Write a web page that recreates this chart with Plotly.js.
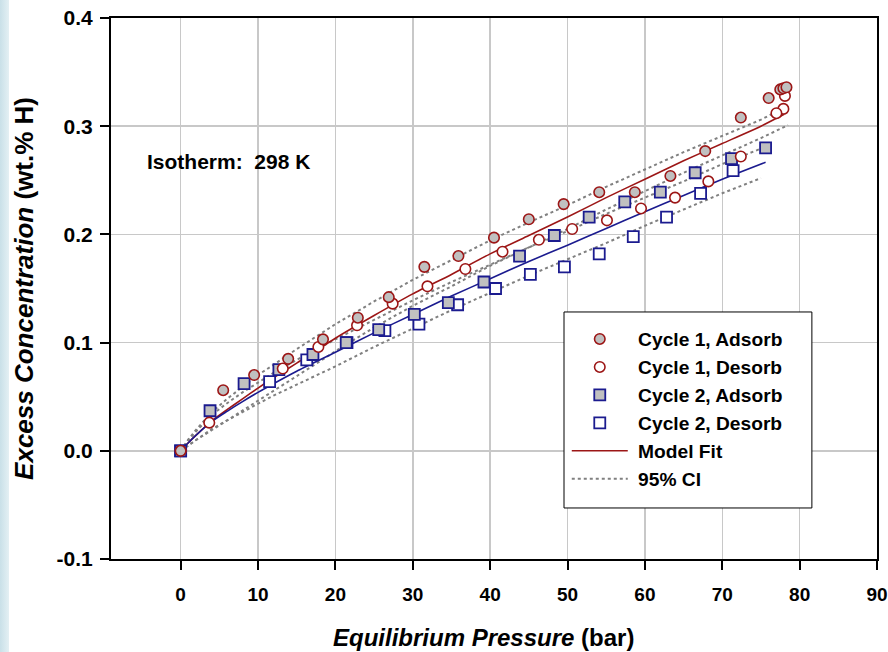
<!DOCTYPE html>
<html>
<head>
<meta charset="utf-8">
<script src="https://cdn.plot.ly/plotly-3.0.1.min.js"></script>
<style>
  html, body { margin: 0; padding: 0; background: #ffffff; }
  #strip { position: absolute; left: 0; top: 0; width: 9px; height: 652px;
           background: linear-gradient(to right, #c9e0e8, #e4f0f4); z-index: 0; }
  #chart { position: absolute; left: 0; top: 0; width: 888px; height: 652px; z-index: 1; }
</style>
</head>
<body>
<div id="strip"></div>
<div id="chart"></div>
<script>
// ---- Data ----
const c1AdsP = [0, 5.5, 9.5, 13.9, 18.4, 22.9, 26.9, 31.5, 35.9, 40.5, 45.0, 49.5, 54.1, 58.7, 63.3, 67.8, 72.4, 76.0, 77.5, 77.9, 78.3];
const c1AdsC = [0, 0.056, 0.070, 0.085, 0.103, 0.123, 0.142, 0.170, 0.180, 0.197, 0.214, 0.228, 0.239, 0.239, 0.254, 0.277, 0.308, 0.326, 0.334, 0.335, 0.336];

const c1DesP = [78.1, 77.9, 77.0, 72.4, 68.2, 63.9, 59.5, 55.1, 50.6, 46.3, 41.6, 36.8, 31.9, 27.4, 22.8, 17.8, 13.2, 3.7, 0];
const c1DesC = [0.328, 0.316, 0.312, 0.272, 0.249, 0.234, 0.224, 0.213, 0.205, 0.195, 0.184, 0.168, 0.152, 0.136, 0.116, 0.096, 0.076, 0.026, 0];

const c2AdsP = [0, 3.8, 8.2, 12.7, 17.1, 21.4, 25.6, 30.2, 34.6, 39.2, 43.8, 48.3, 52.8, 57.4, 62.0, 66.5, 71.2, 75.6];
const c2AdsC = [0, 0.037, 0.062, 0.075, 0.089, 0.100, 0.112, 0.126, 0.137, 0.156, 0.180, 0.199, 0.216, 0.230, 0.239, 0.257, 0.270, 0.280];

const c2DesP = [71.4, 67.2, 62.8, 58.5, 54.1, 49.6, 45.2, 40.7, 35.8, 30.8, 26.4, 21.5, 16.3, 11.5, 0];
const c2DesC = [0.259, 0.238, 0.216, 0.198, 0.182, 0.170, 0.163, 0.150, 0.135, 0.117, 0.111, 0.100, 0.084, 0.064, 0];

const fit1P = [0, 1, 2, 4, 6, 8, 10, 12, 15, 20, 25, 30, 35, 40, 45, 50, 55, 60, 65, 70, 75, 78];
const fit1C = [0, 0.0075, 0.0145, 0.0275, 0.038, 0.048, 0.058, 0.0675, 0.081, 0.104, 0.125, 0.145, 0.163, 0.182, 0.199, 0.216, 0.234, 0.251, 0.268, 0.284, 0.300, 0.311];

const fit2P = [0, 1, 2, 4, 6, 8, 10, 12, 15, 20, 25, 30, 35, 40, 45, 50, 55, 60, 65, 70, 75.6];
const fit2C = [0, 0.0075, 0.0145, 0.027, 0.0365, 0.0455, 0.054, 0.062, 0.0735, 0.091, 0.109, 0.126, 0.143, 0.159, 0.175, 0.190, 0.2055, 0.221, 0.236, 0.251, 0.2667];

const ci1UpP = [0, 1, 2, 4, 6, 8, 10, 12, 15, 20, 25, 30, 35, 40, 45, 50, 55, 60, 65, 70, 75, 77];
const ci1UpC = [0, 0.0105, 0.0195, 0.0355, 0.048, 0.059, 0.070, 0.0795, 0.094, 0.117, 0.138, 0.158, 0.176, 0.1945, 0.211, 0.227, 0.244, 0.260, 0.276, 0.291, 0.306, 0.3133];

const ci1LoP = [0, 1, 2, 4, 6, 8, 10, 12, 15, 20, 25, 30, 35, 40, 45, 50, 55, 60, 65, 70, 75, 78.5];
const ci1LoC = [0, 0.005, 0.010, 0.019, 0.028, 0.037, 0.0465, 0.0555, 0.069, 0.092, 0.114, 0.134, 0.152, 0.171, 0.188, 0.205, 0.223, 0.240, 0.257, 0.273, 0.289, 0.301];

const ci2UpP = [0, 1, 2, 4, 6, 8, 10, 12, 15, 20, 25, 30, 35, 40, 45, 50, 55, 60, 65, 70, 75.6];
const ci2UpC = [0, 0.010, 0.018, 0.033, 0.044, 0.054, 0.063, 0.072, 0.084, 0.103, 0.121, 0.139, 0.156, 0.172, 0.188, 0.203, 0.219, 0.234, 0.249, 0.265, 0.281];

const ci2LoP = [0, 1, 2, 4, 6, 8, 10, 12, 15, 20, 25, 30, 35, 40, 45, 50, 55, 60, 65, 70, 75];
const ci2LoC = [0, 0.005, 0.010, 0.020, 0.028, 0.036, 0.0435, 0.051, 0.061, 0.078, 0.096, 0.113, 0.130, 0.146, 0.162, 0.177, 0.192, 0.208, 0.223, 0.238, 0.252];

const xTicks = [0, 10, 20, 30, 40, 50, 60, 70, 80, 90];
const yTicks = [-0.1, 0.0, 0.1, 0.2, 0.3, 0.4];
const yTickText = ['-0.1', '0.0', '0.1', '0.2', '0.3', '0.4'];

// ---- Styles ----
const RED = '#9c1616';
const BLUE = '#1b1b8f';
const GRAYFILL = '#c0c0c0';
const CI = '#808080';
const FONT = 'Liberation Sans, Arial, sans-serif';

const ciLine = {color: CI, width: 2, dash: 'dot'};

const traces = [
  {x: ci1UpP, y: ci1UpC, mode: 'lines', line: ciLine, name: '&nbsp;95% CI', legendrank: 6, showlegend: true, hoverinfo: 'skip'},
  {x: ci1LoP, y: ci1LoC, mode: 'lines', line: ciLine, showlegend: false, hoverinfo: 'skip'},
  {x: ci2UpP, y: ci2UpC, mode: 'lines', line: ciLine, showlegend: false, hoverinfo: 'skip'},
  {x: ci2LoP, y: ci2LoC, mode: 'lines', line: ciLine, showlegend: false, hoverinfo: 'skip'},
  {x: fit1P, y: fit1C, mode: 'lines', line: {color: RED, width: 1.6, shape: 'spline', smoothing: 0.6}, name: '&nbsp;Model Fit', legendrank: 5},
  {x: fit2P, y: fit2C, mode: 'lines', line: {color: BLUE, width: 1.6, shape: 'spline', smoothing: 0.6}, showlegend: false},
  {x: c2DesP, y: c2DesC, mode: 'markers', name: '&nbsp;Cycle 2, Desorb', legendrank: 4,
   marker: {symbol: 'square', size: 11, color: '#ffffff', line: {color: BLUE, width: 1.8}}},
  {x: c2AdsP, y: c2AdsC, mode: 'markers', name: '&nbsp;Cycle 2, Adsorb', legendrank: 3,
   marker: {symbol: 'square', size: 11, color: GRAYFILL, line: {color: BLUE, width: 1.8}}},
  {x: c1DesP, y: c1DesC, mode: 'markers', name: '&nbsp;Cycle 1, Desorb', legendrank: 2,
   marker: {symbol: 'circle', size: 10.5, color: '#ffffff', line: {color: RED, width: 1.6}}},
  {x: c1AdsP, y: c1AdsC, mode: 'markers', name: '&nbsp;Cycle 1, Adsorb', legendrank: 1,
   marker: {symbol: 'circle', size: 10.5, color: GRAYFILL, line: {color: RED, width: 1.6}}}
];

const axisCommon = {
  showline: true, linecolor: '#000000', linewidth: 2, mirror: true,
  ticks: 'outside', ticklen: 9, tickwidth: 2, tickcolor: '#000000',
  showgrid: true, gridcolor: '#c8c8c8', gridwidth: 1.5,
  zeroline: false
};

const layout = {
  width: 888, height: 652,
  margin: {l: 111, r: 11, t: 18, b: 93},
  paper_bgcolor: 'rgba(0,0,0,0)',
  plot_bgcolor: '#ffffff',
  font: {family: FONT, color: '#000000'},
  showlegend: true,
  xaxis: Object.assign({}, axisCommon, {
    range: [-9, 90], tickvals: xTicks, ticktext: xTicks.map(String),
    ticklabelstandoff: 8,
    tickfont: {family: FONT, size: 19, color: '#000000', weight: 'bold'}
  }),
  yaxis: Object.assign({}, axisCommon, {
    range: [-0.1, 0.4], tickvals: yTicks, ticktext: yTickText,
    ticklabelstandoff: 3,
    tickfont: {family: FONT, size: 21, color: '#000000', weight: 'bold'},
    title: {text: '<b><i>Excess Concentration</i> (wt.% H)</b>', font: {family: FONT, size: 26, color: '#000000'}, standoff: 16}
  }),
  shapes: [{
    type: 'rect', xref: 'paper', yref: 'paper', layer: 'above',
    x0: 0.5914, x1: 0.915, y0: 0.0943, y1: 0.4566,
    fillcolor: '#ffffff', line: {color: '#000000', width: 1}
  }],
  legend: {
    x: 0.595, y: 0.4418, xanchor: 'left', yanchor: 'top',
    bgcolor: 'rgba(0,0,0,0)', borderwidth: 0,
    font: {family: FONT, size: 19.2, color: '#000000', weight: 'bold'},
    traceorder: 'normal', itemwidth: 56
  },
  annotations: [{
    x: -4.6, y: 0.267, xref: 'x', yref: 'y', xanchor: 'left', yanchor: 'middle',
    text: '<b>Isotherm:&nbsp; 298 K</b>', showarrow: false,
    font: {family: FONT, size: 21, color: '#000000'}
  }, {
    x: 0.4863, y: -0.146, xref: 'paper', yref: 'paper', xanchor: 'center', yanchor: 'middle',
    text: '<b><i>Equilibrium Pressure</i> (bar)</b>', showarrow: false,
    font: {family: FONT, size: 24, color: '#000000'}
  }]
};

Plotly.newPlot('chart', traces, layout, {displayModeBar: false, staticPlot: true});
</script>
</body>
</html>
